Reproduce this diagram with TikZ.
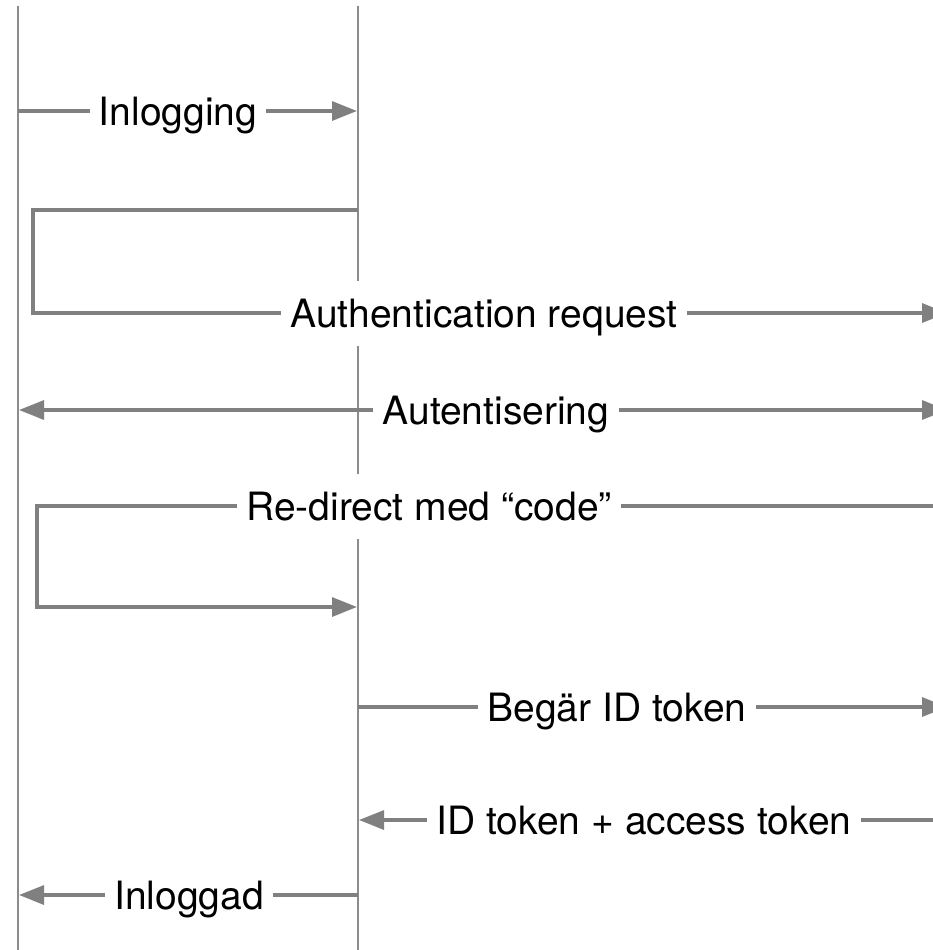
\documentclass[tikz,border=0pt]{standalone}
\usepackage{fontspec}
\setmainfont{TeX Gyre Heros}
\usetikzlibrary{arrows.meta}
\tikzset{
	lifeline/.style={draw=black!45, line width=1.5pt},
	msg/.style={draw=black!50, line width=3.2pt},
	tip/.style={-{Triangle[length=25pt,width=19pt]}},
	msglabel/.style={fill=white, inner xsep=9pt, inner ysep=9pt, text height=37.5pt, text depth=9.5pt, font=\fontsize{39}{47}\selectfont}
}

\begin{document}
\begin{tikzpicture}[x=1pt, y=-1pt]
		%%%%% START %%%%%
		\useasboundingbox (0, 0) rectangle (933, 950);
		
		% lifelines
		\coordinate (userTop) at (18, 6);
		\coordinate (userBot) at (18, 950);
		\coordinate (appTop) at (358, 6);
		\coordinate (appBot) at (358, 950);
		\draw[lifeline] (userTop) -- (userBot);
		\draw[lifeline] (appTop) -- (appBot);
		
		% labels
		\node[msglabel] (login) at (178, 111) {Inlogging};
		\node[msglabel] (authReq) at (484, 313) {Authentication request};
		\node[msglabel] (authn) at (496, 410) {Autentisering};
		\node[msglabel] (redirect) at (429, 506) {Re-direct med “code”};
		\node[msglabel] (askToken) at (617, 707) {Begär ID token};
		\node[msglabel] (tokens) at (644, 820) {ID token + access token};
		\node[msglabel] (loggedIn) at (189, 895) {Inloggad};
		
		% Inlogging
		\coordinate (loginA) at (18, 111);
		\coordinate (loginB) at (357, 111);
		\draw[msg, tip] (loginA) -- (login) -- (loginB);
		
		% Authentication request
		\coordinate (reqA) at (358, 210);
		\coordinate (reqB) at (33, 210);
		\coordinate (reqC) at (33, 313);
		\coordinate (reqD) at (947, 313);
		\draw[msg, tip] (reqA) -- (reqB) -- (reqC) -- (authReq) -- (reqD);
		
		% Autentisering
		\coordinate (authnA) at (947, 410);
		\coordinate (authnB) at (19, 410);
		\draw[msg, tip] (authn) -- (authnA);
		\draw[msg, tip] (authn) -- (authnB);
		
		% Re-direct
		\coordinate (redirA) at (947, 506);
		\coordinate (redirB) at (37, 506);
		\coordinate (redirC) at (37, 607);
		\coordinate (redirD) at (357, 607);
		\draw[msg, tip] (redirA) -- (redirect) -- (redirB) -- (redirC) -- (redirD);
		
		% Begär ID token
		\coordinate (askA) at (358, 707);
		\coordinate (askB) at (947, 707);
		\draw[msg, tip] (askA) -- (askToken) -- (askB);
		
		% ID token + access token
		\coordinate (tokA) at (947, 820);
		\coordinate (tokB) at (359, 820);
		\draw[msg, tip] (tokA) -- (tokens) -- (tokB);
		
		% Inloggad
		\coordinate (doneA) at (358, 895);
		\coordinate (doneB) at (19, 895);
		\draw[msg, tip] (doneA) -- (loggedIn) -- (doneB);
		
		%%%%% END %%%%%
	\end{tikzpicture}
\end{document}
